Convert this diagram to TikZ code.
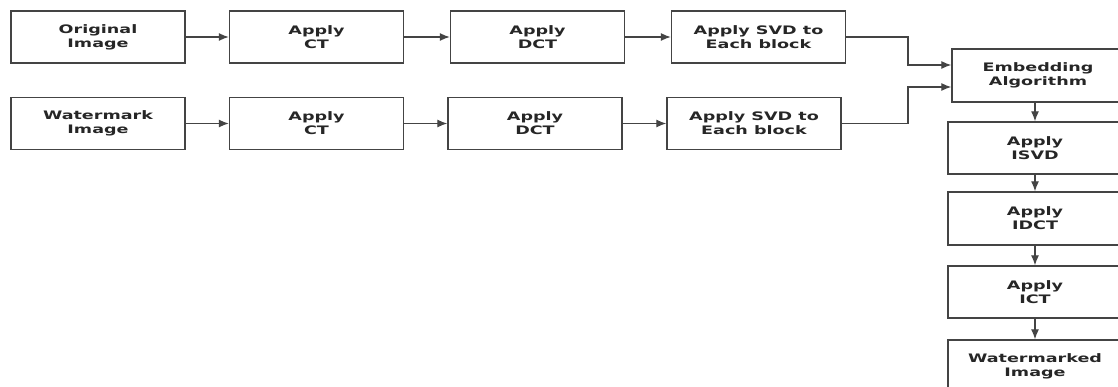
\documentclass[tikz,border=0pt]{standalone}
\usepackage{fontspec}
\newfontfamily\boxfont[FakeStretch=1.5]{DejaVu Sans}
\usetikzlibrary{arrows.meta}
\definecolor{ln}{HTML}{444444}
\definecolor{tx}{HTML}{262626}
\tikzset{
  box/.style={draw=ln, line width=1.4pt, fill=white, minimum width=174pt, minimum height=52pt,
    inner sep=0pt, align=center, text=tx, font=\boxfont\bfseries\fontsize{11.7}{14}\selectfont},
  conn/.style={draw=ln, line width=1.2pt, -{Latex[length=10pt,width=8pt]}}
}
\begin{document}
\begin{tikzpicture}[x=1pt,y=-1pt]
\useasboundingbox (0,0) rectangle (1118,387);
\clip (0,0) rectangle (1118,387);
\fill[white] (0,0) rectangle (1118,387);
% top row
\node[box] (o1) at (98,37) {Original\\Image};
\node[box] (a1) at (316.5,37) {Apply\\CT};
\node[box] (d1) at (537.5,37) {Apply\\DCT};
\node[box] (s1) at (758.5,37) {Apply SVD to\\Each block};
% bottom row
\node[box] (o2) at (98,123.5) {Watermark\\Image};
\node[box] (a2) at (316.5,123.5) {Apply\\CT};
\node[box] (d2) at (535,123.5) {Apply\\DCT};
\node[box] (s2) at (754,123.5) {Apply SVD to\\Each block};
% right column
\node[box, minimum width=172pt, minimum height=53pt] (emb) at (1038,75.5) {Embedding\\Algorithm};
\node[box] (isvd) at (1035,148) {Apply\\ISVD};
\node[box, minimum height=53pt] (idct) at (1035,218.5) {Apply\\IDCT};
\node[box] (ict) at (1035,292) {Apply\\ICT};
\node[box, minimum height=53pt] (wm) at (1035,366.5) {Watermarked\\Image};
% connectors
\draw[conn] (o1) -- (a1);
\draw[conn] (a1) -- (d1);
\draw[conn] (d1) -- (s1);
\draw[conn] (o2) -- (a2);
\draw[conn] (a2) -- (d2);
\draw[conn] (d2) -- (s2);
\coordinate (j1) at (908,65);
\coordinate (j2) at (908,87);
\draw[conn] (s1.east) -| (j1) -- (j1 -| emb.west);
\draw[conn] (s2.east) -| (j2) -- (j2 -| emb.west);
\draw[conn] (isvd.north |- emb.south) -- (isvd.north);
\draw[conn] (isvd) -- (idct);
\draw[conn] (idct) -- (ict);
\draw[conn] (ict) -- (wm);
\end{tikzpicture}
\end{document}
